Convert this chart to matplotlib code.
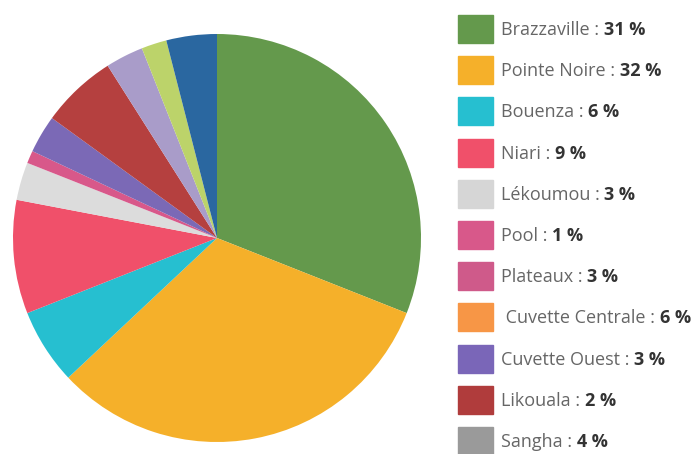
import matplotlib.pyplot as plt
from matplotlib.patches import Rectangle

# data
regions = ['Brazzaville', 'Pointe Noire', 'Bouenza', 'Niari', 'Lékoumou', 'Pool',
           'Plateaux', ' Cuvette Centrale', 'Cuvette Ouest', 'Likouala', 'Sangha']
shares = [31, 32, 6, 9, 3, 1, 3, 6, 3, 2, 4]

# colours used in the pie (they do not match the legend after Pool)
pie_colors = ['#64994c', '#f5b02a', '#26bfd0', '#f0506a', '#dcdcdc', '#d8588a',
              '#7b69b6', '#b5403f', '#a99cc9', '#bcd36a', '#2a67a0']
legend_colors = ['#64994c', '#f5b02a', '#26bfd0', '#f0506a', '#d6d6d6', '#d8588a',
                 '#cf5a8a', '#f79646', '#7a66b8', '#b03c3c', '#9a9a9a']

W, H = 700, 454
fig = plt.figure(figsize=(W / 100, H / 100), dpi=100)

# pie
cx, cy, r = 217, 238, 204
ax = fig.add_axes([(cx - r) / W, (H - cy - r) / H, 2 * r / W, 2 * r / H])
ax.pie(shares, colors=pie_colors, startangle=90, counterclock=False,
       radius=1, wedgeprops=dict(linewidth=0))
ax.set_xlim(-1, 1)
ax.set_ylim(-1, 1)
ax.set_aspect('equal')
ax.axis('off')

# legend drawn by hand
renderer = fig.canvas.get_renderer()
y0, step = 29, 41.2
for i, (name, val) in enumerate(zip(regions, shares)):
    y = y0 + i * step
    fig.patches.append(Rectangle((458 / W, 1 - (y + 14) / H), 35 / W, 28 / H,
                                 transform=fig.transFigure, color=legend_colors[i]))
    t = fig.text(501 / W, 1 - (y + 1) / H, name + ' : ', fontsize=13, color='#666666',
                 family='Open Sans', va='center')
    bb = t.get_window_extent(renderer)
    fig.text(bb.x1 / W, 1 - (y + 1) / H, '%d %%' % val, fontsize=13, color='#333333',
             family='Open Sans', fontweight='bold', va='center')

fig.savefig('out.png', dpi=100)
